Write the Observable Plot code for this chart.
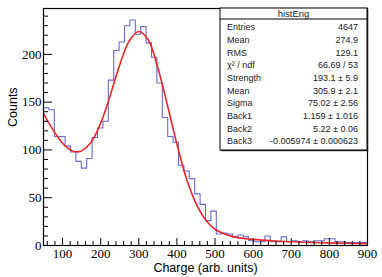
<!DOCTYPE html>
<html><head><meta charset="utf-8">
<script src="https://cdn.jsdelivr.net/npm/d3@7"></script>
<script src="https://cdn.jsdelivr.net/npm/@observablehq/plot@0.6"></script>
<style>body{margin:0;background:#fff}#chart{width:382px;height:277px}</style>
</head><body><div id="chart"></div>
<script>
// Histogram: 60 bins between 50 and 900
const binStart = 50;
const binEnd = 900;
const counts = [144,142,114,114,104,98,88,81,91,113,123,130,173,204,213,230,236,221,229,212,197,170,134,114,108,84,78,70,54,43,26,36,12,13,12,9,11,9,5,4,4,10,4,4,9,4,5,4,5,4,5,5,7,7,4,4,3,3,3,3];
// Fit curve samples
const fitX = [50,75,100,125,140,150,175,200,225,250,275,300,325,350,375,400,425,450,475,500,525,550,575,600,650,700,750,800,850,900];
const fitY = [138,121,107,99,98,99,108,128,157,189,214,224,215,186,147,106,70,44,27,17,12,9,7.4,6.4,5,4,3.2,2.7,2.3,2];
const xTicks = [100,200,300,400,500,600,700,800,900];
const yTicks = [0,50,100,150,200];
const xLabel = "Charge (arb. units)";
const yLabel = "Counts";
const statsTitle = "histEng";
const statsLabels = ["Entries","Mean","RMS","χ² / ndf","Strength","Mean","Sigma","Back1","Back2","Back3"];
const statsValues = ["4647","274.9","129.1","66.69 / 53","193.1 ± 5.9","305.9 ± 2.1","75.02 ± 2.56","1.159 ± 1.016","5.22 ± 0.06","-0.005974 ± 0.000623"];

const W = 382, H = 277, mL = 43, mR = 15, mT = 8, mB = 32;
const fw = W - mL - mR, fh = H - mT - mB;
const bw = (binEnd - binStart) / counts.length;
const steps = counts.map((c, i) => ({x: binStart + i * bw, y: c}));
steps.push({x: binEnd, y: counts[counts.length - 1]});
const fit = fitX.map((x, i) => ({x, y: fitY[i]}));
const xMinor = d3.range(60, 901, 20).filter(v => v % 100 !== 0);
const yMinor = d3.range(0, 241, 10).filter(v => v % 50 !== 0);

const svg = Plot.plot({
  width: W, height: H,
  marginLeft: mL, marginRight: mR, marginTop: mT, marginBottom: mB,
  style: {fontFamily: "Liberation Serif", fontSize: "13px", background: "#fff", color: "#000"},
  x: {domain: [50, 900], label: null},
  y: {domain: [0, 248], label: null},
  marks: [
    Plot.line(steps, {x: "x", y: "y", curve: "step-after", stroke: "#6a6ad0", strokeWidth: 1.1, clip: "frame"}),
    Plot.line(fit, {x: "x", y: "y", curve: "catmull-rom", stroke: "#e8262b", strokeWidth: 1.6, clip: "frame"}),
    Plot.ruleX(xTicks, {x: d => d, insetTop: fh - 7, stroke: "#000"}),
    Plot.ruleX(xMinor, {x: d => d, insetTop: fh - 4, stroke: "#000"}),
    Plot.ruleY(yTicks, {y: d => d, insetRight: fw - 9, stroke: "#000"}),
    Plot.ruleY(yMinor, {y: d => d, insetRight: fw - 5, stroke: "#000"}),
    Plot.axisX({ticks: xTicks, tickSize: 0, tickPadding: 3, label: null, fontSize: 13, fontFamily: "Liberation Serif"}),
    Plot.axisY({ticks: yTicks, tickSize: 0, tickPadding: 2, label: null, fontSize: 13, fontFamily: "Liberation Serif"}),
    Plot.frame({stroke: "#000", strokeWidth: 1.2}),
    Plot.text([xLabel], {frameAnchor: "bottom", dy: 22, lineAnchor: "middle", fontFamily: "Liberation Sans", fontSize: 12.5, fill: "#000"}),
    Plot.text([yLabel], {frameAnchor: "left", dx: -31, rotate: -90, lineAnchor: "middle", fontFamily: "Liberation Sans", fontSize: 12.5, fill: "#000"})
  ]
});

// Stats box overlay
const g = d3.select(svg).append("g").attr("font-family", "Liberation Sans").attr("font-size", 9).attr("fill", "#222").attr("text-anchor", "start");
const bx = 220, by = 8, bW = 147, bH = 142;
g.append("rect").attr("x", bx + 1.2).attr("y", by + 1.2).attr("width", bW).attr("height", bH).attr("fill", "#222");
g.append("rect").attr("x", bx).attr("y", by).attr("width", bW).attr("height", bH).attr("fill", "#fff").attr("stroke", "#000").attr("stroke-width", 1);
g.append("line").attr("x1", bx).attr("x2", bx + bW).attr("y1", by + 11).attr("y2", by + 11).attr("stroke", "#000");
g.append("text").attr("x", bx + bW / 2).attr("y", by + 5.5).attr("dy", "0.35em").attr("text-anchor", "middle").attr("font-size", 9.5).text(statsTitle);
statsLabels.forEach((lab, i) => {
  const yy = 27 + 12.7 * i;
  g.append("text").attr("x", bx + 7).attr("y", yy).attr("dy", "0.35em").attr("text-anchor", "start").text(lab);
  g.append("text").attr("x", bx + bW - 9).attr("y", yy).attr("dy", "0.35em").attr("text-anchor", "end").text(statsValues[i]);
});

document.getElementById("chart").appendChild(svg);
</script>
</body></html>
